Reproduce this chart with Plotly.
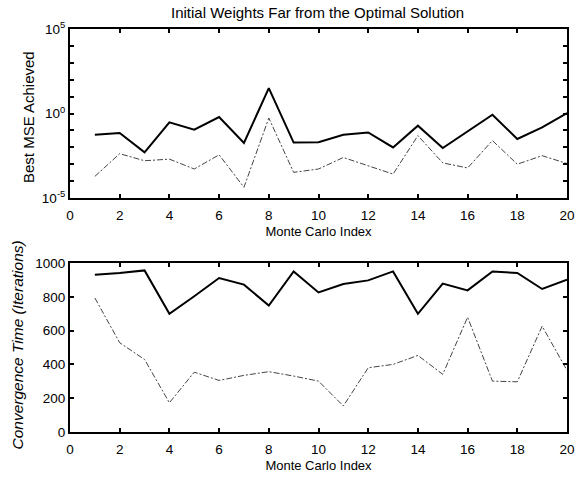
import plotly.graph_objects as go
from plotly.subplots import make_subplots

# Monte Carlo index
runs = list(range(1, 21))

# Top panel: best MSE achieved (log scale)
mse_solid = [0.056, 0.071, 0.0050, 0.30, 0.11, 0.62, 0.018, 32, 0.019, 0.020,
             0.056, 0.076, 0.0098, 0.19, 0.0091, 0.085, 0.85, 0.031, 0.15, 1.07]
mse_dashed = [1.9e-4, 4.2e-3, 1.6e-3, 2.0e-3, 5.2e-4, 3.6e-3, 4.3e-5, 0.54, 3.3e-4, 5.2e-4,
              2.5e-3, 8.1e-4, 2.6e-4, 0.049, 1.2e-3, 6.0e-4, 0.025, 1.0e-3, 3.2e-3, 1.1e-3]

# Bottom panel: convergence time (iterations)
conv_solid = [931, 941, 956, 699, 803, 911, 872, 748, 950, 826,
              876, 897, 950, 699, 878, 838, 950, 941, 846, 901]
conv_dashed = [793, 528, 429, 173, 354, 305, 335, 357, 331, 301,
               154, 380, 400, 453, 341, 679, 301, 297, 626, 365]

x_ticks = list(range(0, 21, 2))
log_major = [1e-5, 1.0, 1e5]
log_major_text = ["10<sup>-5</sup>", "10<sup>0</sup>", "10<sup>5</sup>"]
log_minor = [1e-4, 1e-3, 1e-2, 1e-1, 1e1, 1e2, 1e3, 1e4]
lin_ticks = [0, 200, 400, 600, 800, 1000]

title_text = "Initial Weights Far from the Optimal Solution"
xlabel = "Monte Carlo Index"
ylabel_top = "Best MSE Achieved"
ylabel_bot = "<i>Convergence Time (Iterations)</i>"

FONT = "Liberation Sans, Arial, sans-serif"
DASH = "6px,2px,2px,2px"

fig = make_subplots(rows=2, cols=1, vertical_spacing=0.0)

fig.add_trace(go.Scatter(x=runs, y=mse_solid, mode="lines",
                         line=dict(color="black", width=2)), row=1, col=1)
fig.add_trace(go.Scatter(x=runs, y=mse_dashed, mode="lines",
                         line=dict(color="#444444", width=1, dash=DASH)), row=1, col=1)
fig.add_trace(go.Scatter(x=runs, y=conv_solid, mode="lines",
                         line=dict(color="black", width=2)), row=2, col=1)
fig.add_trace(go.Scatter(x=runs, y=conv_dashed, mode="lines",
                         line=dict(color="#444444", width=1, dash=DASH)), row=2, col=1)

axis_common = dict(showgrid=False, zeroline=False, showline=True, linecolor="black",
                   linewidth=2, mirror="ticks", ticks="inside", ticklen=4,
                   tickcolor="black", tickwidth=1.5, automargin=False,
                   tickfont=dict(family=FONT, size=13.5, color="black"))

fig.update_xaxes(**axis_common, range=[0, 20], tickvals=x_ticks, ticklabelstandoff=4,
                 title=dict(text=xlabel, standoff=5,
                            font=dict(family=FONT, size=13, color="black")))
fig.update_xaxes(domain=[0, 1])

fig.update_yaxes(**axis_common, type="log", range=[-5, 5], tickvals=log_major,
                 ticktext=log_major_text, row=1, col=1,
                 minor=dict(tickvals=log_minor, ticks="inside", ticklen=4,
                            tickcolor="black", tickwidth=1.5))
fig.update_yaxes(**axis_common, range=[0, 1000], tickvals=lin_ticks, row=2, col=1)

fig.update_layout(
    yaxis=dict(domain=[0.5806, 1.0]),
    yaxis2=dict(domain=[0.0, 0.4194]),
    width=577, height=479,
    margin=dict(l=70, r=10, t=29, b=47),
    paper_bgcolor="white", plot_bgcolor="white",
    showlegend=False,
    annotations=[
        dict(text=title_text, xref="paper", yref="paper", x=0.498, y=1.042,
             xanchor="center", yanchor="middle", showarrow=False,
             font=dict(family=FONT, size=15, color="black")),
        dict(text=ylabel_top, xref="paper", yref="paper", x=-0.0845, y=0.7816,
             xanchor="center", yanchor="middle", showarrow=False, textangle=-90,
             font=dict(family=FONT, size=15, color="black")),
        dict(text=ylabel_bot, xref="paper", yref="paper", x=-0.1066, y=0.2146,
             xanchor="center", yanchor="middle", showarrow=False, textangle=-90,
             font=dict(family=FONT, size=15.5, color="black")),
    ],
)

fig.write_html("out.html", config={"displayModeBar": False},
               post_script="document.body.style.margin='0';")
